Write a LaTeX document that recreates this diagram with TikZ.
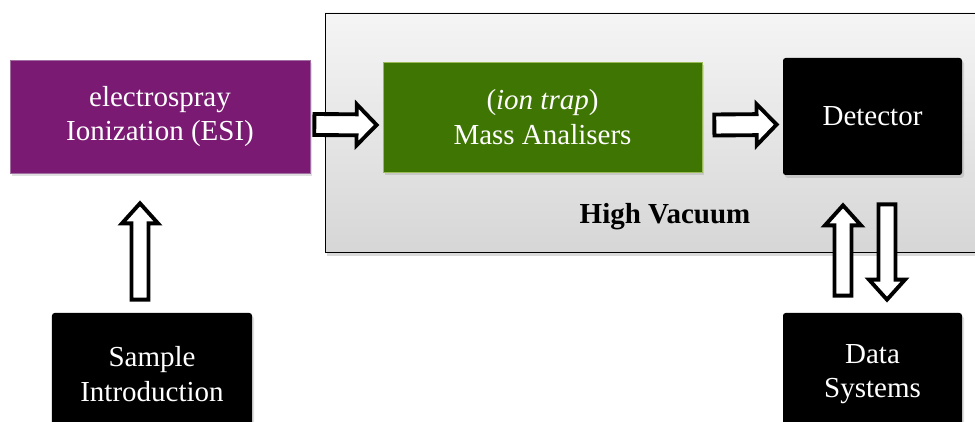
\documentclass[tikz,border=0pt]{standalone}
\usepackage{fontspec}
\setmainfont{Liberation Serif}
\usepackage{xcolor}
\usepackage{tikz}
\definecolor{esipurple}{RGB}{122, 26, 115}
\definecolor{esiborder}{RGB}{160, 110, 160}
\definecolor{trapgreen}{RGB}{63, 118, 3}
\definecolor{trapborder}{RGB}{155, 187, 89}
\usetikzlibrary{shapes, arrows, positioning, fit, backgrounds, calc, shadows}

\begin{document}
\begin{tikzpicture}[
    stage/.style={rectangle, inner sep=0pt, align=center, text=white, font=\fontsize{16.5}{19.5}\selectfont,
        drop shadow={shadow xshift=0.04cm, shadow yshift=-0.06cm, opacity=0.25}},
    blackbox/.style={stage, fill=black, rounded corners=1.5pt},
    hollow/.style 2 args={draw=black, fill=white, line width=2.2pt, line join=miter,
        to path={($(\tikztostart)!#1!90:(\tikztotarget)$)
            -- ($($(\tikztotarget)!0.4cm!(\tikztostart)$)!#1!90:(\tikztotarget)$)
            -- ($($(\tikztotarget)!0.4cm!(\tikztostart)$)!#2!90:(\tikztotarget)$)
            -- (\tikztotarget)
            -- ($($(\tikztotarget)!0.4cm!(\tikztostart)$)!#2!-90:(\tikztotarget)$)
            -- ($($(\tikztotarget)!0.4cm!(\tikztostart)$)!#1!-90:(\tikztotarget)$)
            -- ($(\tikztostart)!#1!-90:(\tikztotarget)$) -- cycle}}
]
    \useasboundingbox (0, 0) rectangle (19.5, 8.44);
    \clip (0, 0) rectangle (19.5, 8.44);

    % High vacuum chamber
    \path[draw=black, thin, top color=gray!8, bottom color=gray!32,
        drop shadow={shadow xshift=0.04cm, shadow yshift=-0.08cm, opacity=0.3}]
        (6.5, 3.4) rectangle (20.5, 8.18);
    \node[anchor=base, font=\fontsize{16.5}{19.5}\selectfont\bfseries] (vac) at (13.3, 3.96) {High Vacuum};

    % Stages
    \node[stage, fill=esipurple, draw=esiborder, minimum width=6cm, minimum height=2.26cm] (esi) at (3.2, 6.11) {electrospray\\Ionization (ESI)};
    \node[stage, fill=trapgreen, draw=trapborder, minimum width=6.38cm, minimum height=2.2cm] (trap) at (10.85, 6.1) {(\textit{ion trap})\\Mass Analisers};
    \node[blackbox, minimum width=3.58cm, minimum height=2.34cm] (det) at (17.45, 6.11) {Detector};
    \node[blackbox, minimum width=4cm, minimum height=2.44cm] (sample) at (3.04, 0.96) {Sample\\Introduction};
    \node[blackbox, minimum width=3.58cm, minimum height=2.44cm] (data) at (17.45, 0.96) {Data\\Systems};

    % Arrows
    \path[hollow={0.21cm}{0.41cm}] ([shift={(0.08, -0.16)}]esi.east) to ([shift={(-0.12, -0.16)}]trap.west);
    \path[hollow={0.21cm}{0.41cm}] ([shift={(0.24, -0.16)}]trap.east) to ([shift={(-0.12, -0.16)}]det.west);
    \path[hollow={0.17cm}{0.36cm}] ([shift={(-0.24, 0.26)}]sample.north) to ([shift={(-0.4, -0.6)}]esi.south);
    \path[hollow={0.17cm}{0.36cm}] ([shift={(-0.59, 0.34)}]data.north) to ([shift={(-0.59, -0.6)}]det.south);
    \path[hollow={0.17cm}{0.36cm}] ([shift={(0.29, -0.58)}]det.south) to ([shift={(0.29, 0.26)}]data.north);
\end{tikzpicture}
\end{document}
